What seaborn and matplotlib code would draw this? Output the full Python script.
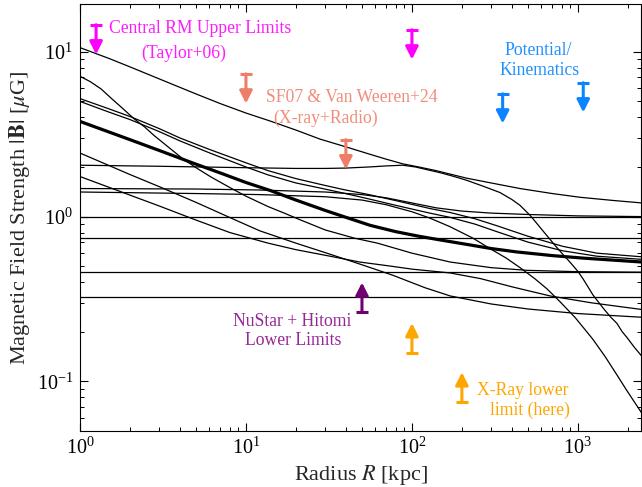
import numpy as np
import pandas as pd
import matplotlib
matplotlib.use("Agg")
import matplotlib.pyplot as plt
import seaborn as sns

# ---------------------------------------------------------------------------
# Magnetic-field profiles |B|(R) in microgauss, sampled at radii R in kpc
# ---------------------------------------------------------------------------
r_top = [1, 1.5, 2, 3, 5, 7, 10, 14, 20, 28, 40, 55, 70, 88, 110, 140, 170, 214,
         300, 448, 700, 1030, 1600, 2430]
b_top = [10.6, 9.1, 8.1, 6.85, 5.55, 4.85, 4.25, 3.8, 3.35, 2.95, 2.65, 2.4, 2.23, 2.09,
         2.0, 1.9, 1.81, 1.71, 1.6, 1.48, 1.38, 1.31, 1.255, 1.21]

r_bump = [1, 3, 10, 20, 30, 40, 55, 70, 88, 105, 128, 150, 180, 214, 268, 339, 400, 448,
          514, 560, 615, 670, 727, 800, 895, 1000, 1072, 1150, 1231, 1340, 1455, 1580,
          1718, 1850, 1972, 2200, 2430]
b_bump = [2.05, 2.02, 1.98, 1.96, 1.96, 1.97, 2.0, 2.03, 2.05, 2.0, 1.91, 1.84, 1.75,
          1.66, 1.53, 1.40, 1.27, 1.17, 1.02, 0.92, 0.82, 0.74, 0.67, 0.6, 0.53, 0.465,
          0.42, 0.375, 0.335, 0.3, 0.27, 0.245, 0.225, 0.2, 0.185, 0.16, 0.142]

r_core = [1, 1.15, 1.34, 1.55, 1.8, 2.1, 2.45, 2.8, 3.2, 4.08, 5, 6.15, 8, 10, 13.6, 17,
          21, 30, 45, 62, 100, 170, 300, 493, 1000, 2430]
b_core = [7.1, 6.6, 5.95, 5.2, 4.55, 3.95, 3.5, 3.1, 2.78, 2.28, 1.98, 1.74, 1.5, 1.33,
          1.15, 1.05, 0.96, 0.83, 0.74, 0.69, 0.6, 0.53, 0.49, 0.472, 0.463, 0.46]

r_pair = [1, 1.5, 2, 3, 4, 6, 10, 13.6, 20, 28, 38.5, 55, 80, 128, 169, 240, 325, 500,
          811, 1300, 2430]
b_pair_hi = [5.2, 4.5, 4.05, 3.42, 3.0, 2.56, 2.12, 1.9, 1.7, 1.57, 1.46, 1.36, 1.25,
             1.12, 1.06, 0.97, 0.88, 0.76, 0.66, 0.6, 0.57]
b_pair_lo = [5.0, 4.3, 3.88, 3.28, 2.88, 2.44, 2.0, 1.79, 1.6, 1.49, 1.39, 1.28, 1.17,
             1.05, 0.99, 0.9, 0.81, 0.7, 0.62, 0.575, 0.55]

r_fid = [1, 2, 3, 5, 7, 10, 14, 20, 30, 40, 56, 80, 110, 150, 220, 300, 430, 700, 1070,
         1600, 2430]
b_fid = [3.78, 2.93, 2.52, 2.08, 1.84, 1.61, 1.44, 1.26, 1.09, 0.99, 0.885, 0.81, 0.76,
         0.72, 0.675, 0.64, 0.61, 0.58, 0.56, 0.545, 0.53]

r_steep = [1, 2, 3, 5, 8.5, 12.1, 20, 30.7, 50, 77, 120, 170, 300, 500, 1000, 2430]
b_steep = [2.43, 1.8, 1.52, 1.22, 0.96, 0.82, 0.69, 0.6, 0.51, 0.44, 0.37, 0.33, 0.295,
           0.275, 0.258, 0.245]

r_shallow = [1, 2, 3, 4.9, 8, 13.6, 20, 30.7, 48.5, 75, 100, 170, 260, 400, 680, 1200, 2430]
b_shallow = [1.75, 1.35, 1.16, 0.96, 0.8, 0.69, 0.63, 0.58, 0.53, 0.5, 0.48, 0.455, 0.42,
             0.375, 0.33, 0.3, 0.273]

r_flat = [1, 5, 12, 30, 50, 70, 100, 140, 200, 300, 500, 1000, 2430]
b_flat = [1.48, 1.47, 1.45, 1.41, 1.36, 1.3, 1.21, 1.13, 1.08, 1.05, 1.03, 1.01, 1.0]

r_cut = [1, 5, 12, 30, 50, 70, 100, 128, 169, 233, 295, 370, 448, 550, 650, 779, 959,
         1100, 1231, 1455, 1694, 1972, 2430]
b_cut = [1.41, 1.38, 1.36, 1.32, 1.26, 1.18, 1.07, 0.98, 0.87, 0.74, 0.64, 0.56, 0.49,
         0.42, 0.365, 0.305, 0.245, 0.207, 0.18, 0.142, 0.112, 0.088, 0.064]

# constant-field models
r_const = [1, 2430]
b_const = [1.0, 0.74, 0.46, 0.325]

# ---------------------------------------------------------------------------
# Observational limits: radius [kpc], |B| [uG]
# ---------------------------------------------------------------------------
rm_r, rm_b = [1.25, 100], [14.6, 13.6]            # central RM upper limits
sf_r, sf_b = [10, 40], [7.35, 2.93]               # X-ray + radio upper limits
pk_r, pk_b = [352, 1077], [5.56, 6.49]            # potential / kinematics upper limits
nh_r, nh_b = [50], [0.263]                        # NuSTAR + Hitomi lower limit
xr_r, xr_b = [100, 200], [0.149, 0.075]           # X-ray lower limits

# ---------------------------------------------------------------------------
sns.set_theme(style="ticks")
plt.rcParams.update({
    "font.family": ["Liberation Serif", "DejaVu Serif"],
    "mathtext.fontset": "stix",
    "axes.edgecolor": "black",
    "axes.linewidth": 0.8,
    "xtick.color": "black",
    "ytick.color": "black",
    "xtick.direction": "in",
    "ytick.direction": "in",
    "xtick.top": True,
    "ytick.right": True,
    "xtick.major.size": 5.5,
    "ytick.major.size": 5.5,
    "xtick.minor.size": 3.2,
    "ytick.minor.size": 3.2,
    "xtick.major.width": 0.8,
    "ytick.major.width": 0.8,
    "xtick.minor.width": 0.7,
    "ytick.minor.width": 0.7,
})

fig = plt.figure(figsize=(6.42, 4.87), dpi=100)
ax = fig.add_axes([80 / 642, 56 / 487, 561 / 642, 427 / 487])

thin = dict(color="black", lw=0.9, ax=ax, estimator=None, sort=False, legend=False)
profiles = [
    (r_top, b_top), (r_bump, b_bump), (r_core, b_core),
    (r_pair, b_pair_hi), (r_pair, b_pair_lo), (r_steep, b_steep),
    (r_shallow, b_shallow), (r_flat, b_flat), (r_cut, b_cut),
]
for rr, bb in profiles:
    sns.lineplot(x=rr, y=bb, **thin)
for b0 in b_const:
    sns.lineplot(x=r_const, y=[b0, b0], **thin)

# fiducial profile
sns.lineplot(x=r_fid, y=b_fid, color="black", lw=2.3, ax=ax, estimator=None,
             sort=False, legend=False)

ax.set_xscale("log")
ax.set_yscale("log")
ax.set_xlim(1, 2400)
ax.set_ylim(0.05, 19.5)

# limit arrows: cap at the limit, arrow pointing to the allowed side
span = 10 ** 0.18


def limits(rs, bs, color, upper):
    for r, b in zip(rs, bs):
        end = b / span if upper else b * span
        ax.annotate("", xy=(r, end), xytext=(r, b),
                    arrowprops=dict(arrowstyle="-|>,head_width=0.38,head_length=0.75",
                                    color=color, lw=2.2, shrinkA=0, shrinkB=0,
                                    mutation_scale=10))
        ax.plot([r], [b], marker="_", ms=8.5, mew=2.2, color=color, zorder=5)


limits(rm_r, rm_b, "#ff00ff", True)
limits(sf_r, sf_b, "#ee7e68", True)
limits(pk_r, pk_b, "#0a84ff", True)
limits(nh_r, nh_b, "#700070", False)
limits(xr_r, xr_b, "#ffa500", False)

tfs = 12.7
notes = [
    (0.2148, 0.9415, "Central RM Upper Limits", "#ff1aff"),
    (0.185, 0.885, "(Taylor+06)", "#ff1aff"),
    (0.485, 0.782, "SF07 & Van Weeren+24", "#f28c7a"),
    (0.4385, 0.733, "(X-ray+Radio)", "#f28c7a"),
    (0.816, 0.892, "Potential/", "#1e90ff"),
    (0.819, 0.845, "Kinematics", "#1e90ff"),
    (0.379, 0.2576, "NuStar + Hitomi", "#962896"),
    (0.3806, 0.2115, "Lower Limits", "#962896"),
    (0.789, 0.0937, "X-Ray lower", "#ffa500"),
    (0.802, 0.0492, "limit (here)", "#ffa500"),
]
for x, y, s, c in notes:
    ax.text(x, y, s, color=c, fontsize=tfs, ha="center", va="center",
            transform=ax.transAxes)

ax.set_xlabel(r"Radius $R$ [kpc]", fontsize=16, labelpad=3)
ax.set_ylabel(r"Magnetic Field Strength $|\mathbf{B}|$ [$\mu$G]", fontsize=16, labelpad=3)
ax.tick_params(axis="both", which="major", labelsize=14.5, pad=5)

fig.savefig("out.png", dpi=100)
